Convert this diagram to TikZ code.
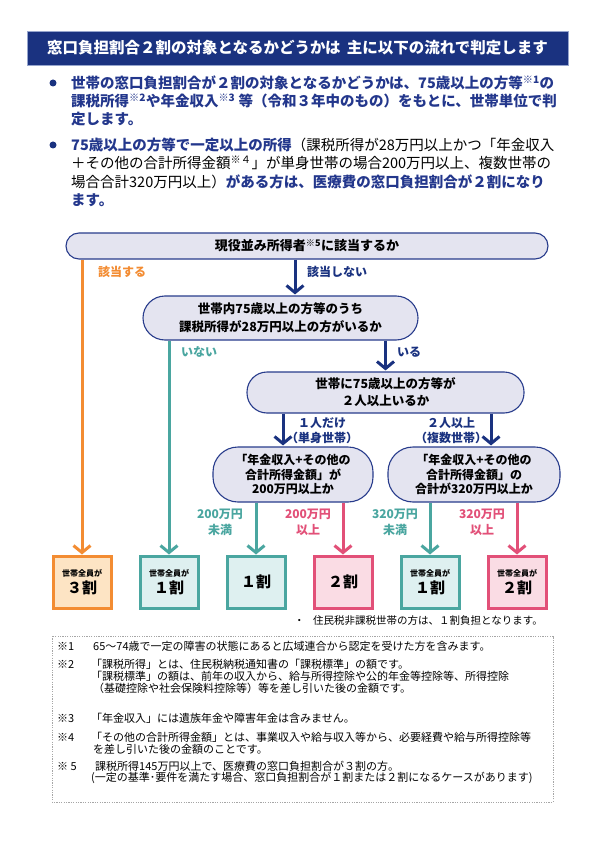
\documentclass[tikz,border=0pt]{standalone}
\usepackage{fontspec}
\setmainfont{Noto Sans CJK JP}
\usetikzlibrary{arrows.meta}
\definecolor{navy}{RGB}{26,50,128}
\definecolor{navyrim}{RGB}{150,165,205}
\definecolor{bluetxt}{RGB}{35,55,140}
\definecolor{qfill}{RGB}{228,228,240}
\definecolor{qdraw}{RGB}{40,60,140}
\definecolor{orng}{RGB}{243,140,50}
\definecolor{orngfill}{RGB}{253,228,196}
\definecolor{teal2}{RGB}{74,166,160}
\definecolor{tealfill}{RGB}{222,240,240}
\definecolor{pink2}{RGB}{226,80,120}
\definecolor{pinkfill}{RGB}{250,220,228}
\newcommand\kome[1]{\textsuperscript{#1}}
\newcommand\fsz[2]{\fontsize{#1}{#2}\selectfont}
\begin{document}
\begin{tikzpicture}[x=1pt,y=-1pt,
  qbox/.style={draw=qdraw, fill=qfill, line width=1.1pt, align=center, inner sep=0pt,
     font=\bfseries\fsz{12.5}{18}},
  rbox/.style={line width=3pt, minimum width=58pt, minimum height=52pt, align=center, inner sep=0pt, font=\bfseries},
  flowline/.style={line width=3pt, -{Straight Barb[length=7pt,width=17pt,line width=3pt]}},
  lbl/.style={font=\bfseries\fsz{12}{16.5}, align=center, inner sep=0pt},
  bline/.style={anchor=west, inner sep=0pt, font=\fsz{14.5}{16}},
  nline/.style={anchor=west, inner sep=0pt, font=\fsz{11}{12}},
  dot/.style={circle, fill=navy, minimum size=7pt, inner sep=0pt}
]
\useasboundingbox (0,0) rectangle (595,842);
\fill[white] (0,0) rectangle (595,842);

% title
\node[fill=navy, draw=navyrim, line width=0.8pt, minimum width=541pt, minimum height=34pt, inner sep=0pt,
  text=white, font=\bfseries\fsz{15.5}{17}] (title) at (297.5,48) {窓口負担割合２割の対象となるかどうかは\hspace{0.4em}主に以下の流れで判定します};

% bullets
\node[dot] (d1) at (53,83) {};
\node[bline, text=bluetxt] (l1) at (71,83) {\bfseries 世帯の窓口負担割合が２割の対象となるかどうかは、75歳以上の方等\kome{※1}の};
\node[bline, text=bluetxt] (l2) at (71,101) {\bfseries 課税所得\kome{※2}や年金収入\kome{※3} 等（令和３年中のもの）をもとに、世帯単位で判};
\node[bline, text=bluetxt] (l3) at (71,119) {\bfseries 定します。};
\node[dot] (d2) at (53,145) {};
\node[bline] (l4) at (71,145) {{\bfseries\color{bluetxt}75歳以上の方等で一定以上の所得}（課税所得が28万円以上かつ「年金収入};
\node[bline] (l5) at (71,163) {＋その他の合計所得金額\kome{※４}」が単身世帯の場合200万円以上、複数世帯の};
\node[bline] (l6) at (71,182) {場合合計320万円以上）{\bfseries\color{bluetxt}がある方は、医療費の窓口負担割合が２割になり}};
\node[bline, text=bluetxt] (l7) at (71,200) {\bfseries ます。};

% question nodes
\node[qbox, minimum width=482pt, minimum height=26pt, rounded corners=13pt, font=\bfseries\fsz{13}{15}] (q1) at (307,246) {現役並み所得者\kome{※5}に該当するか};
\node[qbox, minimum width=275pt, minimum height=44pt, rounded corners=22pt] (q2) at (280.5,318) {世帯内75歳以上の方等のうち\\課税所得が28万円以上の方がいるか};
\node[qbox, minimum width=277pt, minimum height=41pt, rounded corners=20pt, font=\bfseries\fsz{12.5}{17}] (q3) at (385.5,392.5) {世帯に75歳以上の方等が\\２人以上いるか};
\node[qbox, minimum width=160pt, minimum height=55pt, rounded corners=25pt, font=\bfseries\fsz{12}{14.5}] (q4) at (293,474.5) {「年金収入+その他の\\合計所得金額」が\\200万円以上か};
\node[qbox, minimum width=172pt, minimum height=55pt, rounded corners=25pt, font=\bfseries\fsz{12}{14.5}] (q5) at (474,474.5) {「年金収入+その他の\\合計所得金額」の\\合計が320万円以上か};

% result boxes
\node[rbox, draw=orng, fill=orngfill] (r1) at (82,582) {{\fsz{8}{9}世帯全員が}\\[2pt]{\fsz{15}{16}３割}};
\node[rbox, draw=teal2, fill=tealfill] (r2) at (169,582) {{\fsz{8}{9}世帯全員が}\\[2pt]{\fsz{15}{16}１割}};
\node[rbox, draw=teal2, fill=tealfill] (r3) at (256,582) {{\fsz{15}{16}１割}};
\node[rbox, draw=pink2, fill=pinkfill] (r4) at (343,582) {{\fsz{15}{16}２割}};
\node[rbox, draw=teal2, fill=tealfill] (r5) at (430,582) {{\fsz{8}{9}世帯全員が}\\[2pt]{\fsz{15}{16}１割}};
\node[rbox, draw=pink2, fill=pinkfill] (r6) at (517,582) {{\fsz{8}{9}世帯全員が}\\[2pt]{\fsz{15}{16}２割}};

% connectors
\coordinate (a1) at (295,0);
\coordinate (a3) at (283,0);
\coordinate (a4) at (491,0);
\draw[flowline, draw=orng] (q1.south -| r1) -- (r1.north);
\draw[flowline, draw=navy, shorten >=1pt] (q1.south -| a1) -- (q2.north -| a1);
\draw[flowline, draw=teal2] (q2.south -| r2) -- (r2.north);
\draw[flowline, draw=navy, shorten >=1pt] (q2.south -| q3.north) -- (q3.north);
\draw[flowline, draw=navy, shorten >=1pt] (q3.south -| a3) -- (q4.north -| a3);
\draw[flowline, draw=navy, shorten >=1pt] (q3.south -| a4) -- (q5.north -| a4);
\draw[flowline, draw=teal2] (q4.south -| r3) -- (r3.north);
\draw[flowline, draw=pink2] (q4.south -| r4) -- (r4.north);
\draw[flowline, draw=teal2] (q5.south -| r5) -- (r5.north);
\draw[flowline, draw=pink2] (q5.south -| r6) -- (r6.north);

% labels
\node[lbl, text=orng] (t1) at (122,272) {該当する};
\node[lbl, text=navy] (t2) at (337,272) {該当しない};
\node[lbl, text=teal2] (t3) at (199,352) {いない};
\node[lbl, text=navy] (t4) at (409,352) {いる};
\node[lbl, text=navy, font=\bfseries\fsz{12}{15}] (t5) at (322,430.5) {１人だけ\\（単身世帯）};
\node[lbl, text=navy, font=\bfseries\fsz{12}{15}] (t6) at (451,430.5) {２人以上\\（複数世帯）};
\node[lbl, text=teal2] (t7) at (220,522.5) {200万円\\未満};
\node[lbl, text=pink2] (t8) at (308,522.5) {200万円\\以上};
\node[lbl, text=teal2] (t9) at (395,522.5) {320万円\\未満};
\node[lbl, text=pink2] (t10) at (482,522.5) {320万円\\以上};

% remark
\node[anchor=west, inner sep=0pt, font=\fsz{10.5}{12}] (rem) at (294,621) {・\hspace{0.8em}住民税非課税世帯の方は、１割負担となります。};

% notes box
\draw[gray!70, dash pattern=on 1.2pt off 1.2pt, line width=0.6pt] (52,636) rectangle (553,802);
\node[nline] (n1a) at (57,646) {※1};
\node[nline] (n1) at (93,646) {65～74歳で一定の障害の状態にあると広域連合から認定を受けた方を含みます。};
\node[nline] (n2a) at (57,664) {※2};
\node[nline] (n2) at (91,664) {「課税所得」とは、住民税納税通知書の「課税標準」の額です。};
\node[nline] (n2b) at (91,676) {「課税標準」の額は、前年の収入から、給与所得控除や公的年金等控除等、所得控除};
\node[nline] (n2c) at (93,688) {（基礎控除や社会保険料控除等）等を差し引いた後の金額です。};
\node[nline] (n3a) at (57,718) {※3};
\node[nline] (n3) at (91,718) {「年金収入」には遺族年金や障害年金は含みません。};
\node[nline] (n4a) at (57,737) {※4};
\node[nline] (n4) at (91,737) {「その他の合計所得金額」とは、事業収入や給与収入等から、必要経費や給与所得控除等};
\node[nline] (n4b) at (93,749) {を差し引いた後の金額のことです。};
\node[nline] (n5a) at (57,766) {※ 5};
\node[nline] (n5) at (95,766) {課税所得145万円以上で、医療費の窓口負担割合が３割の方。};
\node[nline] (n5b) at (91,778) {(一定の基準･要件を満たす場合、窓口負担割合が１割または２割になるケースがあります)};
\end{tikzpicture}
\end{document}
